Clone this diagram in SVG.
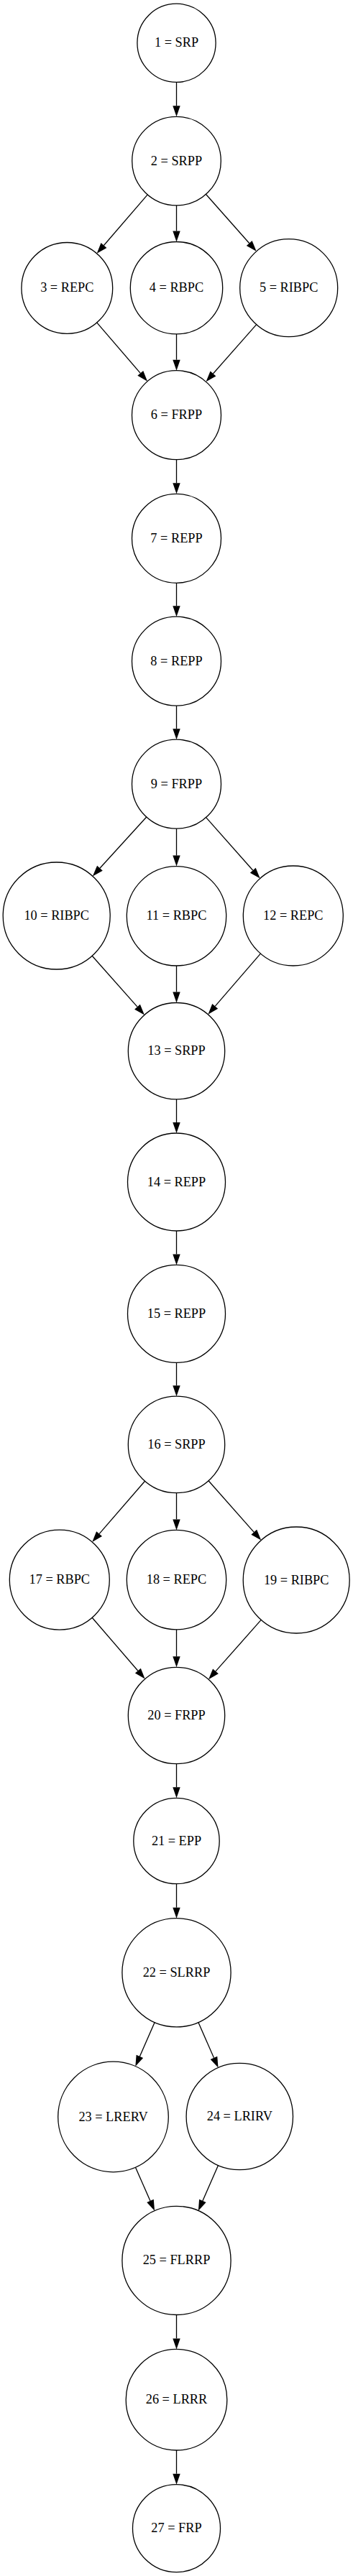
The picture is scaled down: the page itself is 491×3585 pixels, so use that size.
<svg xmlns="http://www.w3.org/2000/svg" width="491" height="3585" viewBox="0 0 491 3585">
<style>
.n circle{fill:none;stroke:#000;stroke-width:1.3}
.n text{font-family:"Liberation Serif","Times New Roman",serif;font-size:18.3px;text-anchor:middle;fill:#000}
.e line{stroke:#000;stroke-width:1.3;marker-end:url(#ah)}
</style>
<defs>
<marker id="ah" markerUnits="userSpaceOnUse" markerWidth="16" markerHeight="12" refX="0" refY="5.2" orient="auto" viewBox="0 0 16 12" overflow="visible">
<path d="M0,0 L15,5.2 L0,10.4 z" fill="#000"/>
</marker>
</defs>
<rect width="491" height="3585" fill="#fff"/>
<g id="edges" class="e">
<line x1="245.5" y1="114.4" x2="245.5" y2="147.3"/>
<line x1="205.05" y1="271.08" x2="144.45" y2="341.49"/>
<line x1="245.5" y1="285.9" x2="245.5" y2="321.5"/>
<line x1="286.57" y1="270.53" x2="346.72" y2="338.54"/>
<line x1="134.66" y1="448.94" x2="195.27" y2="519.35"/>
<line x1="245.5" y1="464.9" x2="245.5" y2="500.7"/>
<line x1="356.7" y1="451.69" x2="296.45" y2="519.97"/>
<line x1="245.5" y1="639.7" x2="245.5" y2="672.3"/>
<line x1="245.5" y1="811.3" x2="245.5" y2="843.2"/>
<line x1="245.5" y1="982.2" x2="245.5" y2="1014.2"/>
<line x1="203.77" y1="1137.06" x2="138.93" y2="1208.31"/>
<line x1="245.5" y1="1153.2" x2="245.5" y2="1190.6"/>
<line x1="286.6" y1="1137.62" x2="351.78" y2="1211.23"/>
<line x1="128.12" y1="1330.26" x2="190.98" y2="1401.18"/>
<line x1="245.5" y1="1344" x2="245.5" y2="1380.5"/>
<line x1="362.41" y1="1327.13" x2="299.18" y2="1400.45"/>
<line x1="245.5" y1="1529.9" x2="245.5" y2="1562"/>
<line x1="245.5" y1="1713" x2="245.5" y2="1745.4"/>
<line x1="245.5" y1="1896.4" x2="245.5" y2="1928.2"/>
<line x1="201.55" y1="2061.24" x2="138.06" y2="2134.68"/>
<line x1="245.5" y1="2077.6" x2="245.5" y2="2114.4"/>
<line x1="290.01" y1="2060.75" x2="353.26" y2="2132.31"/>
<line x1="128.16" y1="2251.26" x2="191.86" y2="2325.22"/>
<line x1="245.5" y1="2267.8" x2="245.5" y2="2305.3"/>
<line x1="363.18" y1="2254.43" x2="299.96" y2="2325.92"/>
<line x1="245.5" y1="2454.7" x2="245.5" y2="2487.3"/>
<line x1="245.5" y1="2621.7" x2="245.5" y2="2654.7"/>
<line x1="215.14" y1="2814.54" x2="194.37" y2="2861.92"/>
<line x1="275.86" y1="2814.53" x2="297.48" y2="2863.81"/>
<line x1="188.44" y1="3016.29" x2="209" y2="3062.97"/>
<line x1="303.52" y1="3013.47" x2="281.86" y2="3062.91"/>
<line x1="245.5" y1="3221.5" x2="245.5" y2="3254.4"/>
<line x1="245.5" y1="3410" x2="245.5" y2="3442.7"/>
</g>
<g id="node1" class="n"><circle cx="245.5" cy="59.8" r="54.6"/><text x="245.5" y="65.3">1 = SRP</text></g>
<g id="node2" class="n"><circle cx="245.5" cy="224.1" r="61.8"/><text x="245.5" y="229.6">2 = SRPP</text></g>
<g id="node3" class="n"><circle cx="93.3" cy="400.9" r="63.4"/><text x="93.3" y="406.4">3 = REPC</text></g>
<g id="node4" class="n"><circle cx="245.5" cy="400.7" r="64.2"/><text x="245.5" y="406.2">4 = RBPC</text></g>
<g id="node5" class="n"><circle cx="401.7" cy="400.7" r="68"/><text x="401.7" y="406.2">5 = RIBPC</text></g>
<g id="node6" class="n"><circle cx="245.5" cy="577.7" r="62"/><text x="245.5" y="583.2">6 = FRPP</text></g>
<g id="node7" class="n"><circle cx="245.5" cy="749.3" r="62"/><text x="245.5" y="754.8">7 = REPP</text></g>
<g id="node8" class="n"><circle cx="245.5" cy="920.2" r="62"/><text x="245.5" y="925.7">8 = REPP</text></g>
<g id="node9" class="n"><circle cx="245.5" cy="1091.2" r="62"/><text x="245.5" y="1096.7">9 = FRPP</text></g>
<g id="node10" class="n"><circle cx="78.7" cy="1274.5" r="74.5"/><text x="78.7" y="1280">10 = RIBPC</text></g>
<g id="node11" class="n"><circle cx="245.5" cy="1274.8" r="69.2"/><text x="245.5" y="1280.3">11 = RBPC</text></g>
<g id="node12" class="n"><circle cx="407.8" cy="1274.5" r="69.5"/><text x="407.8" y="1280">12 = REPC</text></g>
<g id="node13" class="n"><circle cx="245.5" cy="1462.7" r="67.2"/><text x="245.5" y="1468.2">13 = SRPP</text></g>
<g id="node14" class="n"><circle cx="245.5" cy="1645" r="68"/><text x="245.5" y="1650.5">14 = REPP</text></g>
<g id="node15" class="n"><circle cx="245.5" cy="1828.4" r="68"/><text x="245.5" y="1833.9">15 = REPP</text></g>
<g id="node16" class="n"><circle cx="245.5" cy="2010.4" r="67.2"/><text x="245.5" y="2015.9">16 = SRPP</text></g>
<g id="node17" class="n"><circle cx="82.8" cy="2198.6" r="69.5"/><text x="82.8" y="2204.1">17 = RBPC</text></g>
<g id="node18" class="n"><circle cx="245.5" cy="2198.6" r="69.2"/><text x="245.5" y="2204.1">18 = REPC</text></g>
<g id="node19" class="n"><circle cx="412.2" cy="2199" r="74"/><text x="412.2" y="2204.5">19 = RIBPC</text></g>
<g id="node20" class="n"><circle cx="245.5" cy="2387.5" r="67.2"/><text x="245.5" y="2393">20 = FRPP</text></g>
<g id="node21" class="n"><circle cx="245.5" cy="2562" r="59.7"/><text x="245.5" y="2567.5">21 = EPP</text></g>
<g id="node22" class="n"><circle cx="245.5" cy="2745.3" r="75.6"/><text x="245.5" y="2750.8">22 = SLRRP</text></g>
<g id="node23" class="n"><circle cx="157.5" cy="2946" r="76.8"/><text x="157.5" y="2951.5">23 = LRERV</text></g>
<g id="node24" class="n"><circle cx="333.3" cy="2945.5" r="74.2"/><text x="333.3" y="2951">24 = LRIRV</text></g>
<g id="node25" class="n"><circle cx="245.5" cy="3145.9" r="75.6"/><text x="245.5" y="3151.4">25 = FLRRP</text></g>
<g id="node26" class="n"><circle cx="245.5" cy="3339.7" r="70.3"/><text x="245.5" y="3345.2">26 = LRRR</text></g>
<g id="node27" class="n"><circle cx="245.5" cy="3518.7" r="61"/><text x="245.5" y="3524.2">27 = FRP</text></g>
</svg>
